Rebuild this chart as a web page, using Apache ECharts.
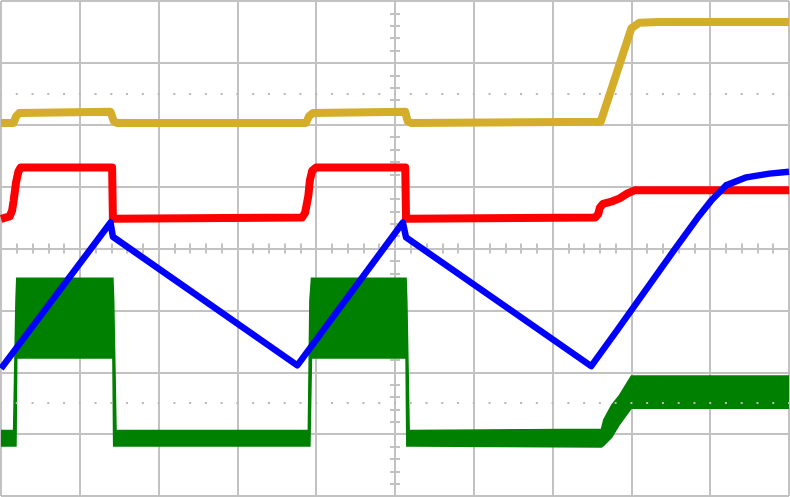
<!DOCTYPE html>
<html>
<head>
<meta charset="utf-8">
<script src="https://cdn.jsdelivr.net/npm/echarts@6/dist/echarts.min.js"></script>
<style>
  html, body { margin: 0; padding: 0; background: #fff; }
  #main { width: 790px; height: 497px; }
</style>
</head>
<body>
<div id="main"></div>
<script>
// scope screen in divisions: 10 across (-5..5), 8 up (-4..4)
const yellowTrace = [
  [-5.00, 2.03], [-4.84, 2.03], [-4.81, 2.13], [-4.77, 2.19], [-3.61, 2.21], [-3.57, 2.06],
  [-3.53, 2.03], [-1.13, 2.03], [-1.09, 2.14], [-1.04, 2.19], [0.13, 2.21], [0.16, 2.06],
  [0.20, 2.03], [2.61, 2.05], [3.00, 3.56], [3.10, 3.65], [3.35, 3.66], [5.00, 3.66]
];
const redTrace = [
  [-5.00, 0.48], [-4.89, 0.52], [-4.86, 0.61], [-4.84, 0.77], [-4.81, 1.06], [-4.78, 1.24],
  [-4.75, 1.31], [-3.59, 1.31], [-3.58, 0.48], [-1.18, 0.50], [-1.14, 0.58], [-1.10, 0.85],
  [-1.08, 1.10], [-1.05, 1.26], [-1.00, 1.31], [0.13, 1.31], [0.14, 0.48], [2.54, 0.50],
  [2.58, 0.56], [2.60, 0.66], [2.64, 0.72], [2.75, 0.76], [2.85, 0.81], [2.95, 0.89],
  [3.04, 0.94], [5.00, 0.94]
];
const blueTrace = [
  [-5.00, -1.94], [-3.61, 0.42], [-3.58, 0.19], [-1.24, -1.89], [0.10, 0.42], [0.14, 0.18],
  [2.49, -1.90], [2.82, -1.32], [3.54, -0.03], [3.86, 0.53], [4.01, 0.77], [4.20, 1.02],
  [4.46, 1.15], [4.75, 1.21], [5.00, 1.24]
];
// green is a noisy band: time, top edge, bottom edge
const greenX = [-5.00, -4.84, -4.81, -4.80, -3.58, -3.57, -3.54, -1.10, -1.08, -1.06,
  0.14, 0.15, 0.18, 2.62, 2.65, 2.75, 2.85, 3.00, 5.00];
const greenTop = [-2.94, -2.94, -0.84, -0.48, -0.48, -0.84, -2.94, -2.94, -0.84, -0.48,
  -0.48, -0.84, -2.94, -2.92, -2.77, -2.53, -2.37, -2.06, -2.06];
const greenBottom = [-3.19, -3.19, -3.19, -1.77, -1.77, -3.19, -3.19, -3.19, -3.19, -1.77,
  -1.77, -3.19, -3.19, -3.21, -3.18, -3.05, -2.84, -2.58, -2.58];
const dotLevels = [2.5, -2.5];

const gridColor = "#c2c2c2";

// two axes per direction, ticks pointing both ways across the centre lines
function scaleAxis(dir, inside, withLines) {
  return {
    type: "value",
    position: dir === "x" ? "bottom" : "left",
    min: dir === "x" ? -5 : -4,
    max: dir === "x" ? 5 : 4,
    interval: 1,
    axisLabel: { show: false },
    splitLine: { show: withLines, lineStyle: { color: gridColor, width: 2 } },
    axisLine: { show: true, onZero: true, lineStyle: { color: gridColor, width: 2 } },
    axisTick: { show: true, inside: inside, length: 5, lineStyle: { color: gridColor, width: 2 } },
    minorTick: { show: true, splitNumber: 5, length: 5, lineStyle: { color: gridColor, width: 2 } },
  };
}

const chart = echarts.init(document.getElementById("main"));

chart.setOption({
  backgroundColor: "#fff",
  animation: false,
  grid: { left: 1, right: 1, top: 1, bottom: 1 },
  xAxis: [scaleAxis("x", false, true), scaleAxis("x", true, false)],
  yAxis: [scaleAxis("y", false, true), scaleAxis("y", true, false)],
  series: [
    {
      type: "custom",
      name: "ch4",
      clip: true,
      data: [[0, 0]],
      renderItem: function (params, api) {
        const pts = [];
        for (let i = 0; i < greenX.length; i++) pts.push(api.coord([greenX[i], greenTop[i]]));
        for (let i = greenX.length - 1; i >= 0; i--) pts.push(api.coord([greenX[i], greenBottom[i]]));
        return {
          type: "polygon",
          shape: { points: pts },
          style: { fill: "#008000", stroke: "#008000", lineWidth: 1.5 },
        };
      },
      markLine: {
        silent: true,
        symbol: "none",
        label: { show: false },
        lineStyle: { color: "#b8b8b8", width: 2, type: [2, 13.76], dashOffset: 1 },
        data: dotLevels.map((v) => ({ yAxis: v })),
      },
    },
    {
      type: "line",
      name: "ch2",
      data: redTrace,
      symbol: "none",
      lineStyle: { color: "#ff0000", width: 8, join: "round" },
    },
    {
      type: "line",
      name: "ch1",
      data: yellowTrace,
      symbol: "none",
      lineStyle: { color: "#d4ae2b", width: 8, join: "round" },
    },
    {
      type: "line",
      name: "ch3",
      data: blueTrace,
      symbol: "none",
      lineStyle: { color: "#0000ff", width: 6.5, join: "round" },
    },
  ],
});
</script>
</body>
</html>
